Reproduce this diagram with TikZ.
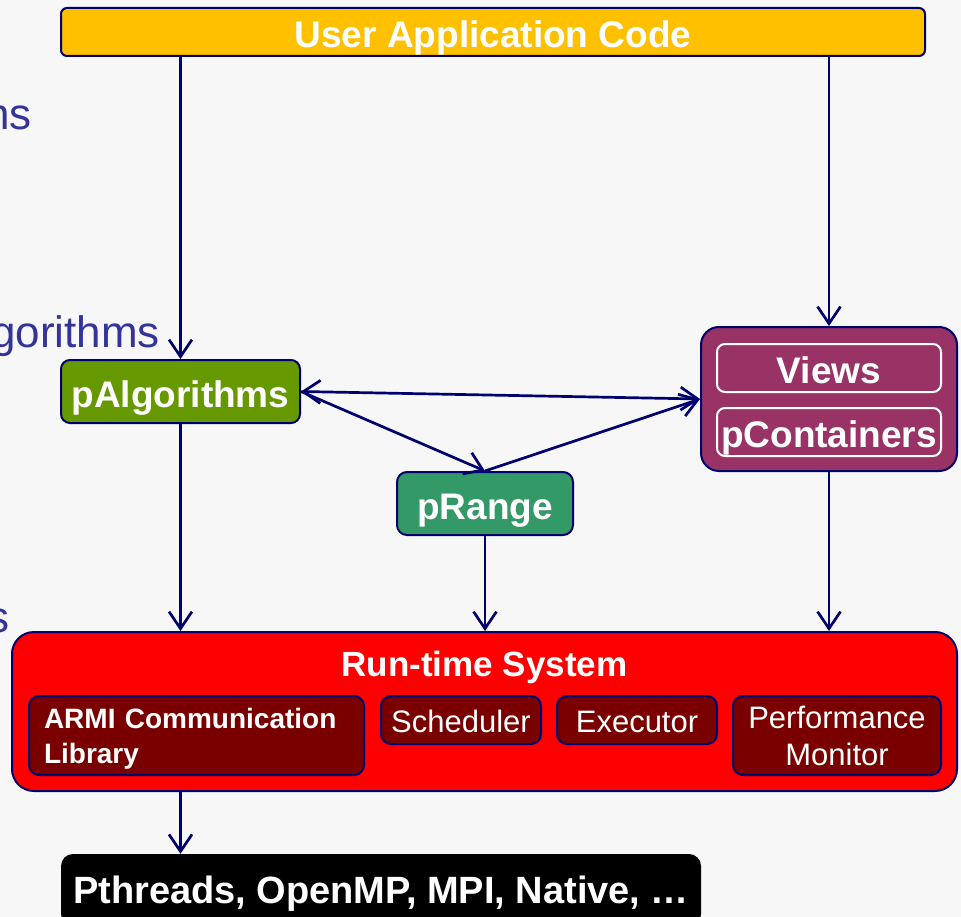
\documentclass[tikz,border=0pt]{standalone}
\usepackage{fontspec}
\setmainfont{Liberation Sans}
\usetikzlibrary{arrows.meta}
\definecolor{bgcol}{HTML}{F7F7F7}
\definecolor{navyline}{HTML}{00006E}
\definecolor{amber}{HTML}{FFC000}
\definecolor{olive}{HTML}{669900}
\definecolor{plum}{HTML}{993366}
\definecolor{seagreen}{HTML}{339966}
\definecolor{rtsred}{HTML}{FF0000}
\definecolor{maroon}{HTML}{7A0000}
\definecolor{sidetext}{HTML}{333399}
\newcommand{\fsz}[1]{\fontsize{#1}{#1}\selectfont}
\tikzset{
  lift/.style={text height=#1, text depth=0pt},
  box/.style={draw=navyline, line width=2pt, text=white, inner sep=0pt,
              font=\bfseries\fsz{37}, lift=31.5pt},
  inbox/.style={draw=navyline, line width=2pt, fill=maroon, text=white,
                inner sep=0pt, rounded corners=10pt},
  sub/.style={draw=white, line width=2pt, rounded corners=8pt, text=white, inner sep=0pt,
              font=\bfseries\fsz{37}, lift=31.5pt, minimum width=224pt, minimum height=48pt},
  arr/.style={draw=navyline, line width=2.7pt,
              -{Straight Barb[length=17pt,width=23pt]}},
  darr/.style={draw=navyline, line width=2.7pt,
              {Straight Barb[length=17pt,width=23pt]}-{Straight Barb[length=17pt,width=23pt]}},
  side/.style={text=sidetext, font=\fsz{44}, inner sep=0pt, anchor=base east}
}
\begin{document}
\begin{tikzpicture}[x=1pt, y=-1pt]
  \fill[bgcol] (0,0) rectangle (961,917);
  \useasboundingbox (0,0) rectangle (961,917);

  % fragments of slide text running in from the left edge
  \node[side] (s1) at (32,130) {ns};
  \node[side] (s2) at (160,347) {gorithms};
  \node[side] (s3) at (10,632) {s};

  % application layer
  \node[box, fill=amber, rounded corners=6pt, minimum width=864pt, minimum height=48pt]
    (app) at (493,32) {User Application Code};

  % pAlgorithms
  \node[box, fill=olive, rounded corners=9pt, minimum width=239pt, minimum height=63pt]
    (palg) at (180.5,391.5) {pAlgorithms};

  % container group
  \node[box, fill=plum, rounded corners=18pt, minimum width=256pt, minimum height=144pt]
    (cont) at (829,399) {};
  \node[sub] (views) at (829,368) {Views};
  \node[sub] (pcont) at (829,432) {pContainers};

  % pRange
  \node[box, fill=seagreen, rounded corners=10pt, minimum width=176pt, minimum height=63pt]
    (prange) at (485,503.5) {pRange};

  % run-time system
  \node[box, fill=rtsred, rounded corners=22pt, minimum width=945pt, minimum height=159pt]
    (rts) at (484.5,711.5) {};
  \node[text=white, font=\bfseries\fsz{35}, inner sep=0pt, lift=25pt]
    (rtstitle) at (484.5,663.8) {Run-time System};
  \node[inbox, minimum width=335pt, minimum height=79pt] (armi) at (196.5,735.5) {};
  \node[text=white, inner sep=0pt, text width=305pt, align=left,
        font=\bfseries\fontsize{28}{35}\selectfont]
    (armitext) at (196.5,739) {ARMI Communication\\Library};
  \node[inbox, minimum width=160pt, minimum height=48pt, font=\fsz{31}, lift=24.2pt]
    (sched) at (461,720) {Scheduler};
  \node[inbox, minimum width=160pt, minimum height=48pt, font=\fsz{31}, lift=24.2pt]
    (exec) at (637,720) {Executor};
  \node[inbox, minimum width=208pt, minimum height=79pt, align=center,
        font=\fontsize{31}{37}\selectfont]
    (perf) at (837,735.5) {Performance\\Monitor};

  % native layer
  \node[fill=black, rounded corners=12pt, text=white, inner sep=0pt,
        font=\bfseries\fsz{38}, lift=27pt, minimum width=640pt, minimum height=72pt]
    (pth) at (381,890) {Pthreads, OpenMP, MPI, Native, \dots};

  % connectors
  \draw[arr] (app.south -| palg.north) -- (palg.north);
  \draw[arr] (app.south -| cont.north) -- (cont.north);
  \draw[darr] (palg.east) -- (cont.west);
  \draw[arr] (palg.east) -- (prange.north);
  \draw[arr] (prange.north) -- (cont.west);
  \draw[arr] (palg.south) -- (palg.south |- rts.north);
  \draw[arr] (prange.south) -- (prange.south |- rts.north);
  \draw[arr] (cont.south) -- (cont.south |- rts.north);
  \draw[arr] (rts.south -| palg.south) -- (pth.north -| palg.south);
\end{tikzpicture}
\end{document}
